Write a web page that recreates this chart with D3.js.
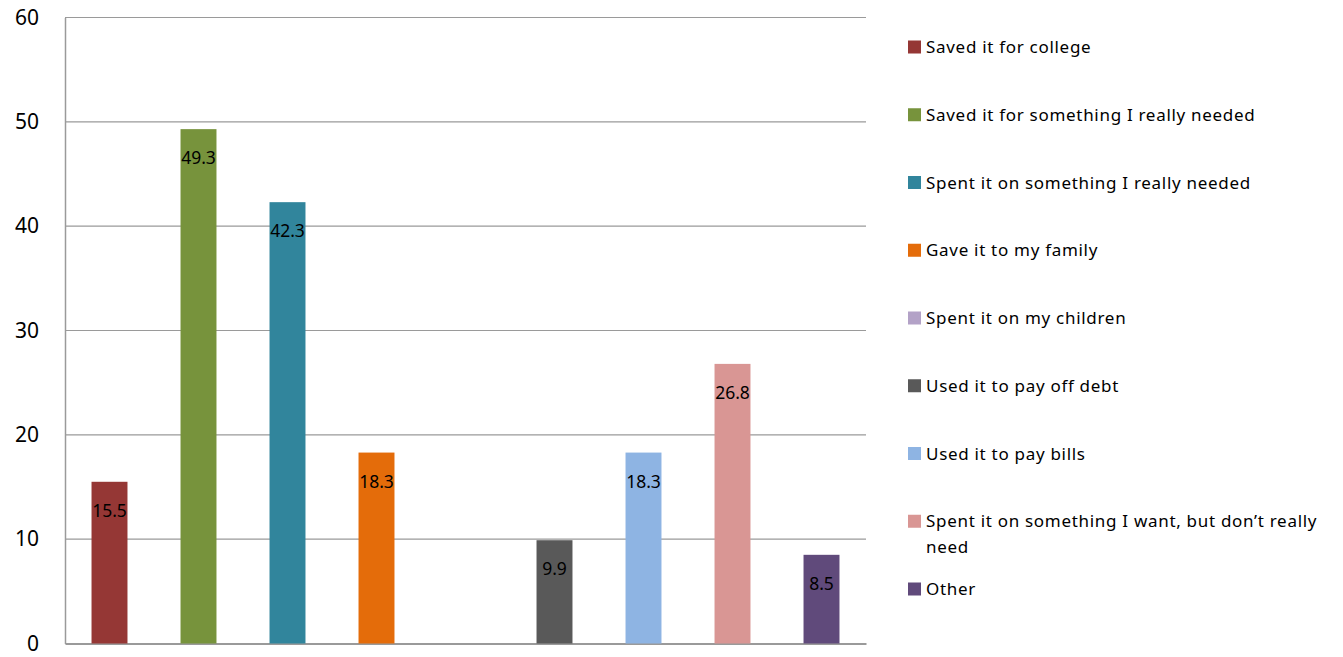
<!DOCTYPE html>
<html>
<head>
<meta charset="utf-8">
<script src="https://cdn.jsdelivr.net/npm/d3@7"></script>
<style>
  html, body { margin: 0; padding: 0; background: #fff; }
  svg { display: block; font-family: "Noto Sans", "Open Sans", sans-serif; }
</style>
</head>
<body>
<svg id="chart" width="1343" height="657"></svg>
<script>
const categories = [
  "Saved it for college",
  "Saved it for something I really needed",
  "Spent it on something I really needed",
  "Gave it to my family",
  "Spent it on my children",
  "Used it to pay off debt",
  "Used it to pay bills",
  "Spent it on something I want, but don\u2019t really need",
  "Other"
];
const values = [15.5, 49.3, 42.3, 18.3, null, 9.9, 18.3, 26.8, 8.5];
const colors = ["#953735", "#77933C", "#31859C", "#E46C0A", "#B3A2C7", "#595959", "#8EB4E3", "#D99694", "#604A7B"];
const yTicks = [0, 10, 20, 30, 40, 50, 60];
const legendLines = [
  ["Saved it for college"],
  ["Saved it for something I really needed"],
  ["Spent it on something I really needed"],
  ["Gave it to my family"],
  ["Spent it on my children"],
  ["Used it to pay off debt"],
  ["Used it to pay bills"],
  ["Spent it on something I want, but don\u2019t really", "need"],
  ["Other"]
];

const svg = d3.select("#chart");
const plotLeft = 65, plotRight = 866, plotTop = 17.5, plotBottom = 643.5;

const x = d3.scaleBand().domain(categories).range([plotLeft, plotRight])
  .paddingInner(0.596).paddingOuter(0.298);
const y = d3.scaleLinear().domain([0, 60]).range([plotBottom, plotTop]);

// gridlines
svg.append("g").selectAll("line").data(yTicks.filter(d => d > 0)).join("line")
  .attr("x1", plotLeft).attr("x2", plotRight)
  .attr("y1", d => y(d)).attr("y2", d => y(d))
  .attr("stroke", "#9a9a9a").attr("stroke-width", 1.2);

// y axis
const yAxis = d3.axisLeft(y).tickValues(yTicks).tickSize(0).tickPadding(26);
const ya = svg.append("g").attr("transform", `translate(${plotLeft},0)`).call(yAxis);
ya.select(".domain").attr("stroke", "#9a9a9a").attr("stroke-width", 1.5);
ya.selectAll("text").attr("font-size", 21).attr("fill", "#000")
  .attr("font-family", "'Noto Sans', sans-serif");

// bottom axis line
const xa = svg.append("g").attr("transform", `translate(0,${plotBottom})`)
  .call(d3.axisBottom(x).tickSize(0).tickFormat(""));
xa.select(".domain").attr("stroke", "#9a9a9a").attr("stroke-width", 2);

// bars
const data = categories.map((c, i) => ({c, v: values[i], col: colors[i]}));
svg.append("g").selectAll("rect").data(data.filter(d => d.v != null)).join("rect")
  .attr("x", d => x(d.c)).attr("width", x.bandwidth())
  .attr("y", d => y(d.v)).attr("height", d => y(0) - y(d.v))
  .attr("fill", d => d.col);

// data labels
svg.append("g").selectAll("text").data(data.filter(d => d.v != null)).join("text")
  .attr("x", d => x(d.c) + x.bandwidth() / 2)
  .attr("y", d => y(d.v) + 35)
  .attr("text-anchor", "middle")
  .attr("font-size", 17.5).attr("fill", "#000")
  .text(d => d3.format(".1f")(d.v));

// legend
const lg = svg.append("g");
legendLines.forEach((lines, i) => {
  const cy = 47 + 67.75 * i;
  lg.append("rect").attr("x", 908).attr("y", cy - 6.5).attr("width", 13).attr("height", 13)
    .attr("fill", colors[i]);
  const t = lg.append("text").attr("x", 926).attr("y", cy + 6)
    .attr("font-size", 17).attr("letter-spacing", 0.7).attr("fill", "#000");
  lines.forEach((ln, j) => {
    t.append("tspan").attr("x", 926).attr("dy", j === 0 ? 0 : 26).text(ln);
  });
});
</script>
</body>
</html>
